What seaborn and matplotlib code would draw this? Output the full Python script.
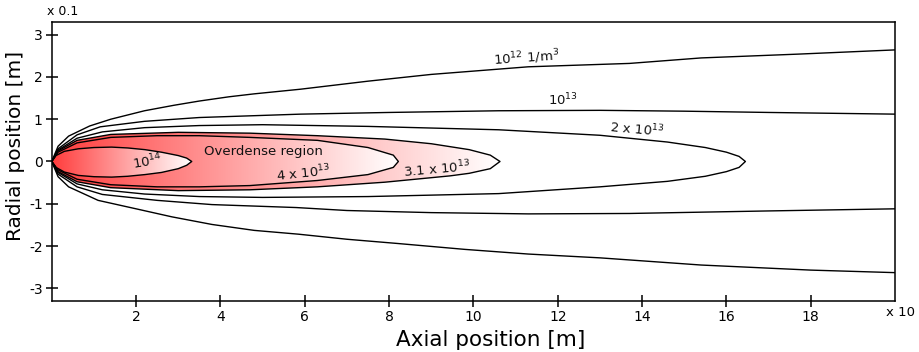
import numpy as np
import pandas as pd
import matplotlib
matplotlib.use("Agg")
import matplotlib.pyplot as plt
from matplotlib.colors import LinearSegmentedColormap
from matplotlib.patches import Polygon
import seaborn as sns

# Density iso-contours (axial position in units of 10 m, radial in units of 0.1 m)
# 1e12 1/m^3 (open)
ax_12_up = [0, 0.15, 0.4, 0.9, 1.4, 2.2, 2.9, 3.5, 4.2, 4.8, 5.9, 7.5, 9.0, 11.3, 13.7, 15.4, 17.7, 20]
rad_12_up = [0, 0.36, 0.6, 0.84, 1.0, 1.2, 1.33, 1.43, 1.53, 1.6, 1.71, 1.9, 2.06, 2.24, 2.32, 2.45, 2.54, 2.64]
ax_12_lo = [0, 0.15, 0.4, 1.1, 2.0, 2.85, 3.8, 4.8, 5.85, 7.0, 8.2, 9.8, 11.3, 13.0, 15.4, 18.0, 20]
rad_12_lo = [0, -0.36, -0.6, -0.92, -1.12, -1.31, -1.49, -1.63, -1.72, -1.84, -1.94, -2.08, -2.19, -2.28, -2.45, -2.57, -2.63]

# 1e13 (open)
ax_13_up = [0, 0.15, 0.6, 1.15, 2.2, 3.5, 5.0, 5.9, 8.0, 10.6, 13.0, 15.0, 17.0, 20]
rad_13_up = [0, 0.3, 0.63, 0.82, 0.95, 1.04, 1.09, 1.12, 1.16, 1.2, 1.21, 1.19, 1.16, 1.12]
ax_13_lo = [0, 0.15, 0.6, 1.2, 2.5, 3.8, 5.8, 7.0, 9.0, 11.3, 13.7, 17.0, 20]
rad_13_lo = [0, -0.3, -0.6, -0.78, -0.92, -1.02, -1.09, -1.16, -1.21, -1.24, -1.23, -1.17, -1.12]

# 2e13 (closed)
ax_2e13 = [0, 0.15, 0.6, 1.2, 2.2, 3.5, 5.0, 7.5, 10.6, 13.0, 14.6, 15.5, 16.0, 16.3, 16.45,
           16.3, 16.0, 15.5, 14.6, 13.0, 10.6, 7.5, 5.0, 3.5, 2.2, 1.2, 0.6, 0.15, 0]
rad_2e13 = [0, 0.27, 0.55, 0.7, 0.8, 0.85, 0.87, 0.83, 0.75, 0.62, 0.46, 0.33, 0.22, 0.12, 0,
            -0.14, -0.24, -0.35, -0.47, -0.6, -0.76, -0.83, -0.85, -0.83, -0.77, -0.67, -0.53, -0.26, 0]

# 3.1e13 (closed, edge of the overdense region)
ax_31e13 = [0, 0.15, 0.6, 1.4, 3.0, 4.7, 6.3, 7.9, 9.0, 9.9, 10.4, 10.63,
            10.4, 9.9, 9.45, 7.9, 6.3, 4.7, 3.0, 1.4, 0.6, 0.15, 0]
rad_31e13 = [0, 0.25, 0.5, 0.64, 0.69, 0.67, 0.61, 0.53, 0.42, 0.28, 0.15, 0,
             -0.17, -0.28, -0.34, -0.49, -0.6, -0.67, -0.69, -0.62, -0.48, -0.24, 0]

# 4e13 (closed)
ax_4e13 = [0, 0.15, 0.6, 1.4, 2.5, 3.5, 4.7, 6.3, 7.5, 8.1, 8.22,
           8.1, 7.5, 6.3, 4.7, 3.5, 2.5, 1.4, 0.6, 0.15, 0]
rad_4e13 = [0, 0.22, 0.44, 0.57, 0.61, 0.61, 0.57, 0.5, 0.33, 0.15, 0,
            -0.14, -0.31, -0.45, -0.57, -0.6, -0.6, -0.55, -0.42, -0.2, 0]

# 1e14 (closed)
ax_14 = [0, 0.1, 0.3, 0.63, 1.0, 1.42, 1.8, 2.21, 2.6, 3.0, 3.2, 3.32,
         3.2, 3.0, 2.6, 2.21, 1.8, 1.42, 1.0, 0.63, 0.3, 0.1, 0]
rad_14 = [0, 0.14, 0.24, 0.3, 0.33, 0.34, 0.32, 0.28, 0.22, 0.14, 0.08, 0,
          -0.09, -0.17, -0.26, -0.31, -0.35, -0.37, -0.36, -0.33, -0.25, -0.14, 0]

x_ticks = [2, 4, 6, 8, 10, 12, 14, 16, 18]
y_ticks = [-3, -2, -1, 0, 1, 2, 3]

sns.set_theme(style="ticks")
plt.rcParams["font.family"] = ["DejaVu Sans"]
plt.rcParams["mathtext.default"] = "regular"
plt.rcParams["axes.unicode_minus"] = False
plt.rcParams["text.color"] = "black"
plt.rcParams["axes.labelcolor"] = "black"

fig = plt.figure(figsize=(9.19, 3.52), dpi=100)
ax = fig.add_axes([0.0563, 0.145, 0.9177, 0.7925])

# Overdense region: shaded with a red-to-white gradient along the axis
grad_cmap = LinearSegmentedColormap.from_list("overdense", ["#ff3c3c", "#ffffff"])
gradient = np.linspace(0, 1, 256).reshape(1, -1)
for xs, rs in [(ax_31e13, rad_31e13), (ax_4e13, rad_4e13), (ax_14, rad_14)]:
    poly = Polygon(np.column_stack([xs, rs]), closed=True, facecolor="none", edgecolor="none")
    ax.add_patch(poly)
    im = ax.imshow(gradient, cmap=grad_cmap, aspect="auto", interpolation="bilinear",
                   extent=(0, max(xs), -1, 1), zorder=1)
    im.set_clip_path(poly)

# Contour lines
branches = [
    (ax_12_up, rad_12_up), (ax_12_lo, rad_12_lo),
    (ax_13_up, rad_13_up), (ax_13_lo, rad_13_lo),
    (ax_2e13, rad_2e13), (ax_31e13, rad_31e13),
    (ax_4e13, rad_4e13), (ax_14, rad_14),
]
for xs, rs in branches:
    df = pd.DataFrame({"axial": xs, "radial": rs})
    sns.lineplot(data=df, x="axial", y="radial", sort=False, estimator=None,
                 color="black", linewidth=1.0, ax=ax, zorder=3)

# Contour labels
lab_kw = dict(fontsize=9.5, color="#111111", ha="center", va="center", zorder=4)
ax.text(11.27, 2.44, "$10^{12}$ 1/m$^{3}$", rotation=4, **lab_kw)
ax.text(12.13, 1.45, "$10^{13}$", rotation=0, **lab_kw)
ax.text(13.88, 0.77, "2 x $10^{13}$", rotation=-5, **lab_kw)
ax.text(5.01, 0.23, "Overdense region", rotation=0, **lab_kw)
ax.text(5.96, -0.27, "4 x $10^{13}$", rotation=6, **lab_kw)
ax.text(9.14, -0.18, "3.1 x $10^{13}$", rotation=5, **lab_kw)
ax.text(2.28, 0.0, "$10^{14}$", rotation=10, **lab_kw)

ax.set_xlim(0, 20)
ax.set_ylim(-3.3, 3.3)
ax.set_xticks(x_ticks)
ax.set_yticks(y_ticks)
ax.tick_params(direction="inout", length=9, width=1.1, colors="black", labelsize=10, pad=2)
for sp in ax.spines.values():
    sp.set_color("black")
    sp.set_linewidth(1.1)

ax.set_xlabel("Axial position [m]", fontsize=15.5)
ax.set_ylabel("Radial position [m]", fontsize=14.5)
ax.xaxis.set_label_coords(0.521, -0.14)
ax.yaxis.set_label_coords(-0.0435, 0.556)
ax.xaxis.label.set_va("center")
ax.yaxis.label.set_va("center")
ax.text(-0.0056, 1.039, "x 0.1", transform=ax.transAxes, ha="left", va="center", fontsize=9)
ax.text(1.006, -0.043, "x 10", transform=ax.transAxes, ha="center", va="center", fontsize=9.5)

fig.savefig("out.png", dpi=100)
